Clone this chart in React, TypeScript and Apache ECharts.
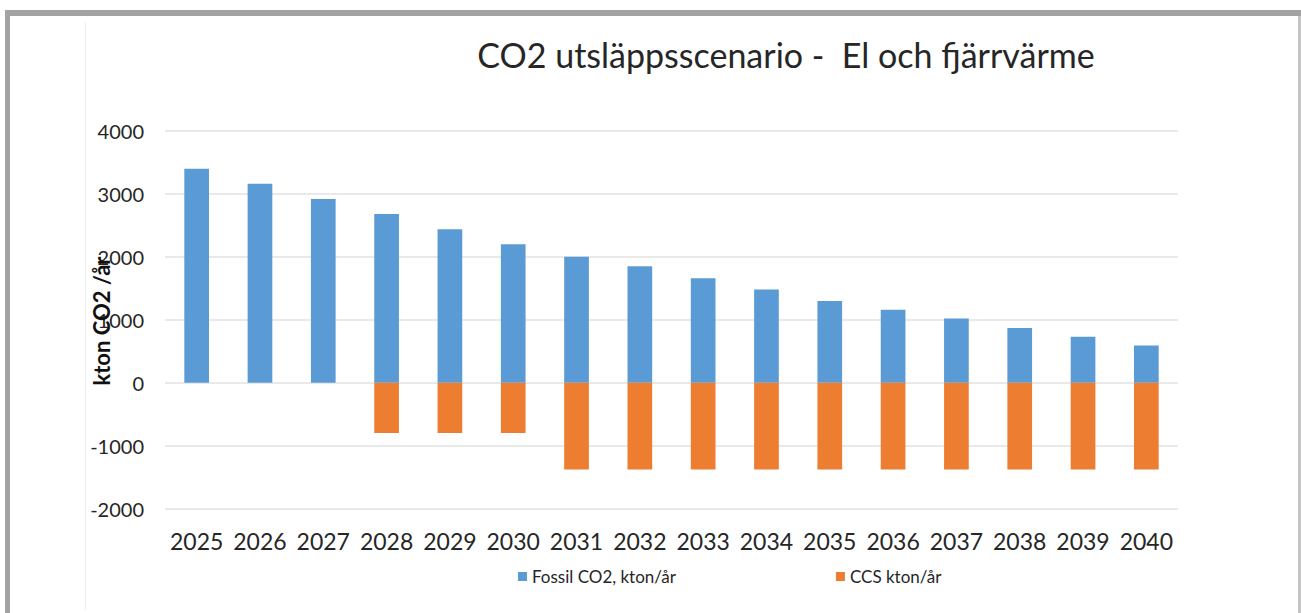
import React, { useEffect, useRef } from "react";
import * as echarts from "echarts";

const years = ["2025", "2026", "2027", "2028", "2029", "2030", "2031", "2032", "2033", "2034", "2035", "2036", "2037", "2038", "2039", "2040"];
const fossilCO2 = [3400, 3160, 2920, 2680, 2440, 2200, 2000, 1850, 1660, 1480, 1300, 1160, 1020, 870, 730, 590];
const ccs = [null, null, null, -800, -800, -800, -1380, -1380, -1380, -1380, -1380, -1380, -1380, -1380, -1380, -1380];
const seriesNames = ["Fossil CO2, kton/år", "CCS kton/år"];
const titleText = "CO2 utsläppsscenario -  El och fjärrvärme";
const yAxisTitle = "kton CO2 /år";

const FONT = "Lato, 'Open Sans', sans-serif";
const TEXT = "#262626";

export default function App() {
  const ref = useRef<HTMLDivElement>(null);

  useEffect(() => {
    if (!ref.current) return;
    const chart = echarts.init(ref.current, undefined, { renderer: "svg" });
    chart.setOption({
      animation: false,
      backgroundColor: "#ffffff",
      textStyle: { fontFamily: FONT, color: TEXT },
      title: {
        text: titleText,
        left: 781,
        top: 32,
        textAlign: "center",
        textStyle: { fontFamily: FONT, fontSize: 34, fontWeight: "normal", color: TEXT },
      },
      legend: {
        left: 513,
        top: 563,
        itemWidth: 9,
        itemHeight: 9,
        itemGap: 160,
        icon: "rect",
        textStyle: { fontFamily: FONT, fontSize: 17, color: TEXT },
        data: seriesNames,
      },
      grid: { left: 165, right: 123, top: 131, bottom: 104.5, containLabel: false },
      xAxis: {
        type: "category",
        data: years,
        axisLine: { show: false },
        axisTick: { show: false },
        axisLabel: { interval: 0, fontFamily: FONT, fontSize: 23, color: TEXT, margin: 21 },
      },
      yAxis: {
        type: "value",
        min: -2000,
        max: 4000,
        interval: 1000,
        axisLine: { show: false },
        axisTick: { show: false },
        splitLine: { lineStyle: { color: "#e2e2e2", width: 1.5 } },
        axisLabel: {
          fontFamily: FONT,
          fontSize: 20,
          color: TEXT,
          margin: 21,
          formatter: (v: number) => String(v),
        },
      },
      series: [
        {
          name: seriesNames[0],
          type: "bar",
          stack: "total",
          data: fossilCO2,
          barWidth: "39%",
          itemStyle: { color: "#5B9BD5" },
        },
        {
          name: seriesNames[1],
          type: "bar",
          stack: "total",
          data: ccs,
          barWidth: "39%",
          itemStyle: { color: "#ED7D31" },
        },
      ],
      graphic: [
        // outer frame
        { type: "rect", shape: { x: 5, y: 10, width: 1296, height: 6 }, style: { fill: "#a3a3a3" }, silent: true },
        { type: "rect", shape: { x: 5, y: 10, width: 5, height: 603 }, style: { fill: "#a3a3a3" }, silent: true },
        { type: "rect", shape: { x: 1298, y: 16, width: 3, height: 597 }, style: { fill: "#c4c4c4" }, silent: true },
        // faint chart-area edge
        { type: "line", shape: { x1: 85.5, y1: 22, x2: 85.5, y2: 610 }, style: { stroke: "#eeeeee", lineWidth: 1 }, silent: true },
        // y-axis title, drawn over the tick labels
        {
          type: "text",
          x: 101,
          y: 321,
          rotation: Math.PI / 2,
          z: 10,
          silent: true,
          style: {
            text: yAxisTitle,
            fontFamily: FONT,
            fontSize: 22,
            fontWeight: "bold",
            fill: "#111",
            align: "center",
            verticalAlign: "middle",
          },
        },
      ],
    });
    return () => chart.dispose();
  }, []);

  return (
    <div
      ref={ref}
      style={{ position: "absolute", left: 0, top: 0, width: 1301, height: 613, background: "#fff" }}
    />
  );
}
